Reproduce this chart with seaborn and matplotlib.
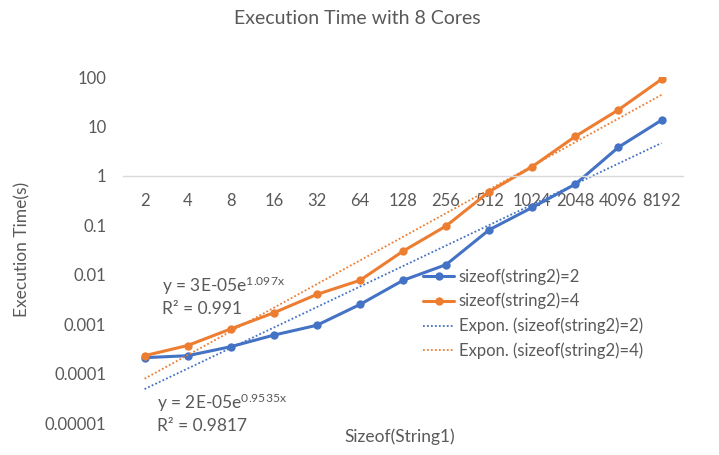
"""
Execution time vs. size of String1 on 8 cores (log scale), Excel-style chart.
"""

import numpy as np
import pandas as pd
import matplotlib
matplotlib.use("Agg")
import matplotlib.pyplot as plt
import seaborn as sns

sns.set_theme(style="white")
plt.rcParams["font.family"] = ["Lato", "DejaVu Sans"]
plt.rcParams["mathtext.fontset"] = "custom"
plt.rcParams["mathtext.rm"] = "Lato"

TEXT = "#595959"
BLUE = "#4472C4"
ORANGE = "#ED7D31"

# data
sizes = ["2", "4", "8", "16", "32", "64", "128", "256", "512", "1024", "2048", "4096", "8192"]
time_s2_2 = [0.00021, 0.00023, 0.00035, 0.0006, 0.00095, 0.0025, 0.0077,
             0.016, 0.081, 0.23, 0.68, 3.8, 13.4]
time_s2_4 = [0.00023, 0.00037, 0.0008, 0.0017, 0.004, 0.0077, 0.030,
             0.097, 0.48, 1.54, 6.3, 21.7, 90.0]
series_names = ["sizeof(string2)=2", "sizeof(string2)=4"]
trend_labels = ["y = 2E-05e$\\mathregular{^{0.9535x}}$\nR² = 0.9817",
                "y = 3E-05e$\\mathregular{^{1.097x}}$\nR² = 0.991"]

x = np.arange(1, len(sizes) + 1)
df = pd.DataFrame({
    "x": np.concatenate([x, x]),
    "time": time_s2_2 + time_s2_4,
    "series": [series_names[0]] * len(x) + [series_names[1]] * len(x),
})

fig = plt.figure(figsize=(7.19, 4.55), dpi=100)
ax = fig.add_axes([0.1711, 0.0703, 0.7789, 0.7604])

sns.lineplot(data=df, x="x", y="time", hue="series", palette=[BLUE, ORANGE],
             marker="o", markersize=6, markeredgewidth=0, linewidth=2.2,
             ax=ax, legend=False)

# exponential trendlines fitted to each series
for vals, color in zip([time_s2_2, time_s2_4], [BLUE, ORANGE]):
    b, ln_a = np.polyfit(x, np.log(vals), 1)
    trend = np.exp(ln_a + b * x)
    sns.lineplot(x=x, y=trend, color=color, linestyle=(0, (1, 1.2)),
                 linewidth=1.3, ax=ax)

ax.set_yscale("log")
ax.set_ylim(1e-5, 100)
ax.set_xlim(0.5, len(sizes) + 0.5)
ax.set_yticks([1e-5, 1e-4, 1e-3, 1e-2, 1e-1, 1, 10, 100])
ax.set_yticklabels(["0.00001", "0.0001", "0.001", "0.01", "0.1", "1", "10", "100"])
ax.minorticks_off()
ax.set_xticks(x)
ax.set_xticklabels(sizes)

for side in ["left", "right", "top"]:
    ax.spines[side].set_visible(False)
ax.spines["bottom"].set_position(("data", 1))
ax.spines["bottom"].set_color("#d9d9d9")
ax.spines["bottom"].set_linewidth(1.0)
ax.tick_params(axis="both", length=0, colors=TEXT, labelsize=12)
ax.tick_params(axis="x", pad=12)
ax.tick_params(axis="y", pad=12)
ax.set_xlabel("")
ax.set_ylabel("")

# titles and labels
fig.text(0.497, 0.96, "Execution Time with 8 Cores", ha="center", va="center",
         fontsize=14, color=TEXT)
fig.text(0.031, 0.452, "Execution Time(s)", rotation=90, ha="center", va="center",
         fontsize=12.5, color=TEXT)
fig.text(0.556, 0.04, "Sizeof(String1)", ha="center", va="center",
         fontsize=12.5, color=TEXT)

# trendline equations
fig.text(0.225, 0.35, trend_labels[1], ha="left", va="center", fontsize=12.5,
         color=TEXT, linespacing=1.3)
fig.text(0.219, 0.092, trend_labels[0], ha="left", va="center", fontsize=12.5,
         color=TEXT, linespacing=1.3)

# legend
legend_handles = [
    plt.Line2D([], [], color=BLUE, lw=2.2, marker="o", markersize=6, markeredgewidth=0),
    plt.Line2D([], [], color=ORANGE, lw=2.2, marker="o", markersize=6, markeredgewidth=0),
    plt.Line2D([], [], color=BLUE, lw=1.3, linestyle=(0, (1, 1.2))),
    plt.Line2D([], [], color=ORANGE, lw=1.3, linestyle=(0, (1, 1.2))),
]
legend_labels = series_names + [f"Expon. ({n})" for n in series_names]
leg = fig.legend(legend_handles, legend_labels, loc="upper left",
                 bbox_to_anchor=(0.588, 0.411), frameon=False, fontsize=12,
                 handlelength=1.9, handletextpad=0.25, labelspacing=0.5,
                 borderpad=0, borderaxespad=0)
for t in leg.get_texts():
    t.set_color(TEXT)

plt.savefig("out.png", dpi=100)
plt.close()
